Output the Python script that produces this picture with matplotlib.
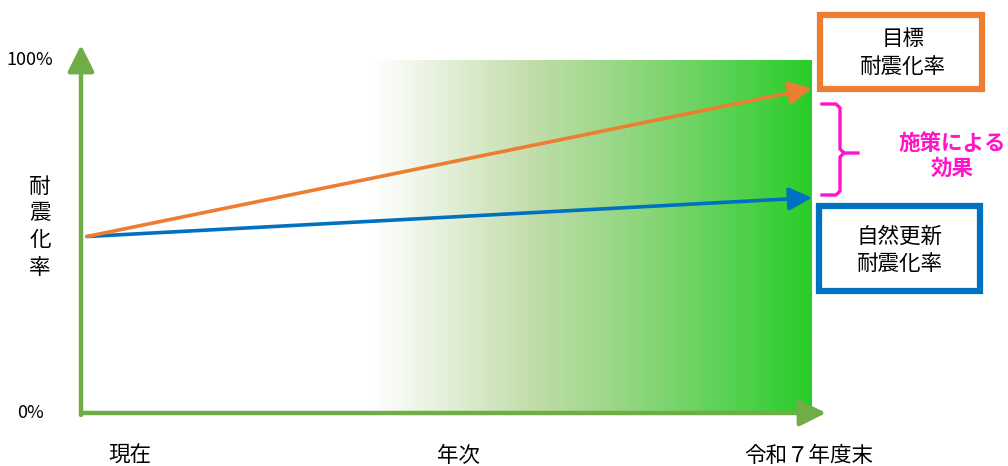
import numpy as np
import matplotlib
matplotlib.use("Agg")
import matplotlib.pyplot as plt
from matplotlib.colors import LinearSegmentedColormap
from matplotlib.patches import Rectangle

plt.rcParams['font.family'] = ['Noto Sans CJK JP', 'DejaVu Sans']

# seismic retrofit rate (%) now and at the target year
start_rate = 50
target_rate = 92     # with policy measures
natural_rate = 61    # natural renewal only
x_now, x_end = 87, 812

x_labels = ['現在', '年次', '令和７年度末']
x_label_pos = [130, 458, 809]
y_tick_labels = ['100%', '0%']
y_tick_vals = [100, 0]

GREEN = '#70AD47'
ORANGE = '#ED7D31'
BLUE = '#0070C0'
MAGENTA = '#FF14C8'

def py(p):
    # pixel row -> percent
    return (413 - p) / 3.53

fig = plt.figure(figsize=(10.08, 4.66), dpi=100)
ax = fig.add_axes([0, 0, 1, 1])
ax.set_xlim(0, 1008)
ax.set_ylim(py(466), py(0))
ax.axis('off')

# gradient band up to the target year
cmap = LinearSegmentedColormap.from_list(
    'band', [(0.0, '#FFFFFF'), (0.36, '#C2DDAA'), (0.62, '#8AD67A'), (1.0, '#28CD2A')])
grad = np.linspace(0, 1, 400).reshape(1, -1)
ax.imshow(grad, cmap=cmap, extent=[373, x_end, 0, 100], aspect='auto', zorder=1)

# axes arrows
ax.annotate('', xy=(81, py(45)), xytext=(81, py(415)),
            arrowprops=dict(arrowstyle='-|>,head_length=0.8,head_width=0.4',
                            mutation_scale=20, color=GREEN, lw=3.2,
                            shrinkA=0, shrinkB=0), zorder=3)
ax.annotate('', xy=(826, 0), xytext=(81, 0),
            arrowprops=dict(arrowstyle='-|>,head_length=0.8,head_width=0.4',
                            mutation_scale=20, color=GREEN, lw=3.2,
                            shrinkA=0, shrinkB=0), zorder=3)

# trend lines
for end, col in [(natural_rate, BLUE), (target_rate, ORANGE)]:
    ax.annotate('', xy=(x_end, end), xytext=(x_now, start_rate),
                arrowprops=dict(arrowstyle='-|>,head_length=0.7,head_width=0.35',
                                mutation_scale=20, color=col, lw=2.6,
                                shrinkA=0, shrinkB=0), zorder=4)

# legend boxes
ax.add_patch(Rectangle((820, py(89)), 162, py(15) - py(89), fill=False,
                       ec=ORANGE, lw=4.5, zorder=5))
ax.text(903, py(53), '目標\n耐震化率', ha='center', va='center',
        fontsize=15.5, linespacing=1.3, zorder=6)
ax.add_patch(Rectangle((819, py(291)), 161, py(206) - py(291), fill=False,
                       ec=BLUE, lw=4.5, zorder=5))
ax.text(900, py(250), '自然更新\n耐震化率', ha='center', va='center',
        fontsize=15.5, linespacing=1.3, zorder=6)

# bracket for the policy effect
bx = [822, 836, 840, 840, 844, 858]
top = [104, 104, 108, 149, 153, 153]
bot = [195, 195, 191, 157, 153]
ax.plot(bx, [py(v) for v in top], color=MAGENTA, lw=2.4, solid_joinstyle='round', zorder=5)
ax.plot(bx[:-1], [py(v) for v in bot], color=MAGENTA, lw=2.4,
        solid_joinstyle='round', zorder=5)
ax.text(952, py(156), '施策による\n効果', ha='center', va='center', color=MAGENTA,
        fontsize=15.5, fontweight='bold', linespacing=1.25, zorder=6)

# axis texts
for v, s in zip(y_tick_vals, y_tick_labels):
    ax.text(30, v, s, ha='center', va='center', fontsize=13)
for ch, p in zip('耐震化率', [187, 213, 240, 268]):
    ax.text(40, py(p), ch, ha='center', va='center', fontsize=15.5)
for xp, s in zip(x_label_pos, x_labels):
    ax.text(xp, py(456), s, ha='center', va='center', fontsize=15.5)

fig.savefig('out.png', dpi=100)
